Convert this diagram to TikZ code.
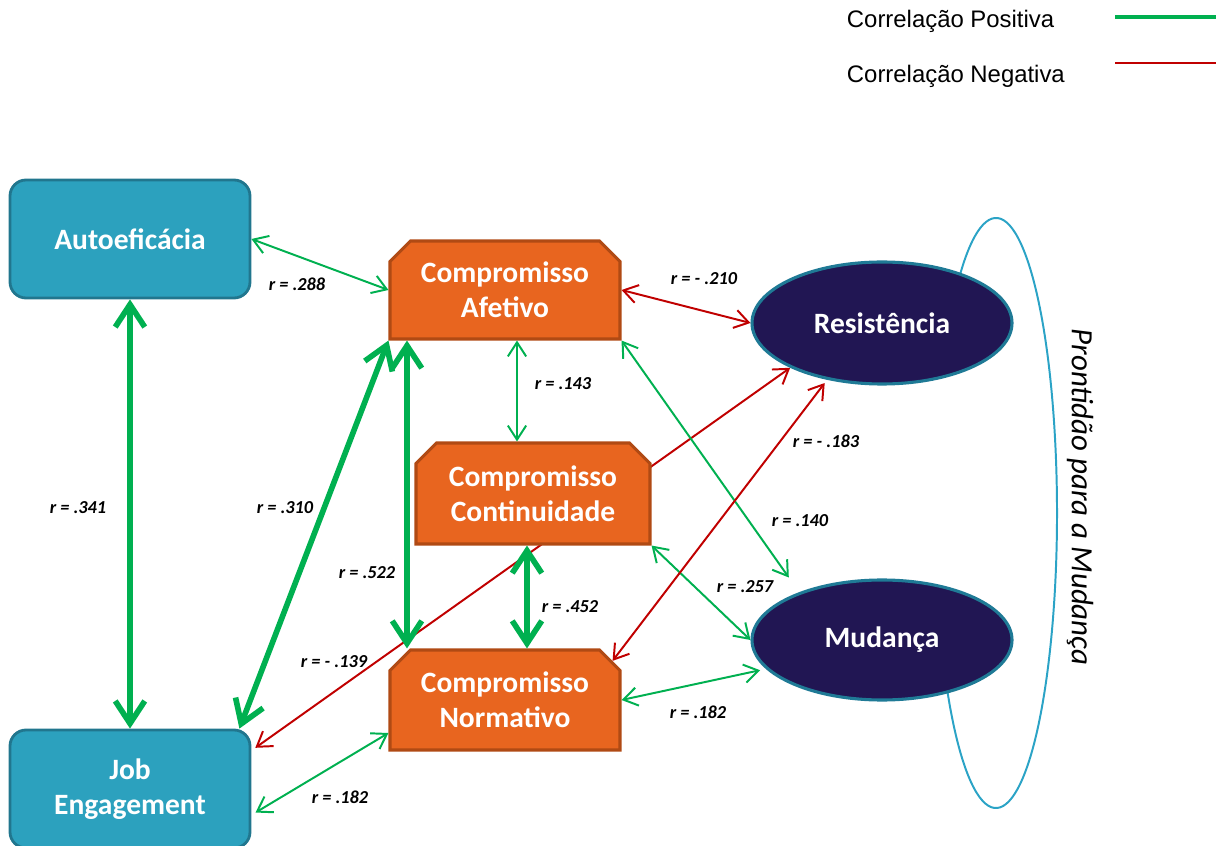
\documentclass[tikz,border=0pt]{standalone}
\usepackage{fontspec}
\setmainfont{Carlito}
\newfontfamily\legendfont{Liberation Sans}
\usepackage{tikz}
\usetikzlibrary{arrows.meta,backgrounds,shapes.misc,shapes.geometric}

\definecolor{boxblue}{HTML}{2CA1BE}
\definecolor{boxblueline}{HTML}{21768E}
\definecolor{compfill}{HTML}{E8651F}
\definecolor{compline}{HTML}{B04A14}
\definecolor{prontfill}{HTML}{211653}
\definecolor{prontline}{HTML}{1F7A96}
\definecolor{ringblue}{HTML}{2BA3C6}
\definecolor{posgreen}{HTML}{00B050}
\definecolor{negred}{HTML}{C00000}

\begin{document}
\begin{tikzpicture}[
  varbox/.style={rectangle, rounded corners=0.4cm, draw=boxblueline, line width=2pt, fill=boxblue, text=white,
    minimum width=6cm, minimum height=2.95cm, align=center, font=\fontsize{21pt}{25pt}\selectfont\bfseries},
  compbox/.style={chamfered rectangle, chamfered rectangle corners={north west,north east}, chamfered rectangle xsep=0.4cm,
    draw=compline, line width=2.2pt, fill=compfill, text=white, align=center, font=\fontsize{21pt}{25pt}\selectfont\bfseries},
  prontbox/.style={ellipse, draw=prontline, line width=2.2pt, fill=prontfill, text=white,
    minimum width=6.5cm, minimum height=3.05cm, font=\fontsize{21pt}{25pt}\selectfont\bfseries},
  poslink/.style={draw=posgreen, line width=1.4pt, arrows={Straight Barb[length=10pt,width=13pt]-Straight Barb[length=10pt,width=13pt]}},
  poslinkthick/.style={draw=posgreen, line width=4pt, arrows={Straight Barb[length=16pt,width=21pt]-Straight Barb[length=16pt,width=21pt]}},
  neglink/.style={draw=negred, line width=1.4pt, arrows={Straight Barb[length=10pt,width=13pt]-Straight Barb[length=10pt,width=13pt]}},
  coef/.style={font=\fontsize{13pt}{15pt}\selectfont\bfseries\itshape},
  legtext/.style={anchor=west, font=\legendfont\fontsize{17pt}{20pt}\selectfont},
]
\useasboundingbox (0,0) rectangle (30.4,21.125);

% legenda
\node[legtext] (legpos) at (21.05,20.6) {Correlação Positiva};
\node[legtext] (legneg) at (21.05,19.225) {Correlação Negativa};
\draw[posgreen, line width=2.2pt] (27.875,20.7) -- (30.4,20.7);
\draw[negred, line width=1.4pt] (27.875,19.55) -- (30.4,19.55);

% variaveis
\node[varbox] (auto) at (3.25,15.15) {Autoeficácia};
\node[varbox] (job) at (3.25,1.4) {Job\\Engagement};
\node[compbox, minimum width=5.75cm, minimum height=2.45cm] (afet) at (12.625,13.875) {Compromisso\\Afetivo};
\node[compbox, minimum width=5.85cm, minimum height=2.525cm] (cont) at (13.325,8.7875) {Compromisso\\Continuidade};
\node[compbox, minimum width=5.75cm, minimum height=2.5cm] (norm) at (12.625,3.625) {Compromisso\\Normativo};
\node[prontbox] (resi) at (22.05,13.05) {Resistência};
\node[prontbox, minimum height=3cm] (muda) at (22.05,5.125) {Mudança};
\node[rotate=-90, font=\fontsize{22pt}{26pt}\selectfont\itshape] (pront) at (27.0,8.7) {Prontidão para a Mudança};

\begin{scope}[on background layer]
\draw[ringblue, line width=1.4pt] (24.9,8.3) ++(150:1.525cm and 7.375cm)
  arc[start angle=150, end angle=-150, x radius=1.525cm, y radius=7.375cm];
\draw[neglink, shorten <=0.12cm] ([yshift=-0.55cm]job.north east) -- (resi.206);
\end{scope}

% correlacoes
\draw[poslink] (auto.east) -- (afet.west);
\draw[poslinkthick] (auto.south) -- (job.north);
\draw[poslinkthick] ([xshift=-0.3cm]job.north east) -- (afet.south west);
\draw[poslinkthick] ([xshift=-2.45cm]afet.south) -- ([xshift=-2.45cm]norm.north);
\draw[poslink] ([xshift=0.3cm]afet.south) -- ([xshift=-0.4cm]cont.north);
\draw[neglink] (afet.east) -- (resi.west);
\draw[poslink, shorten >=0.45cm] (afet.south east) -- (muda.150);
\draw[poslinkthick] ([xshift=-0.15cm]cont.south) -- ([xshift=0.55cm]norm.north);
\draw[poslink] (cont.south east) -- (muda.west);
\draw[poslink, shorten >=0.15cm] (norm.east) -- (muda.194);
\draw[poslink, shorten <=0.12cm] ([yshift=-0.65cm]job.east) -- ([yshift=-0.825cm]norm.west);
\draw[neglink, shorten >=0.1cm] (norm.20) -- (resi.226);

% coeficientes
\node[coef] (c288) at (7.425,14.025) {r = .288};
\node[coef] (c341) at (1.95,8.425) {r = .341};
\node[coef] (c310) at (7.125,8.425) {r = .310};
\node[coef] (c522) at (9.175,6.8) {r = .522};
\node[coef] (c143) at (14.075,11.525) {r = .143};
\node[coef] (c210) at (17.6,14.15) {r = - .210};
\node[coef] (c183) at (20.65,10.1) {r = - .183};
\node[coef] (c140) at (20.0,8.1) {r = .140};
\node[coef] (c257) at (18.625,6.45) {r = .257};
\node[coef] (c452) at (14.25,5.95) {r = .452};
\node[coef] (c139) at (8.35,4.575) {r = - .139};
\node[coef] (c182a) at (17.45,3.325) {r = .182};
\node[coef] (c182b) at (8.5,1.2) {r = .182};
\end{tikzpicture}
\end{document}
